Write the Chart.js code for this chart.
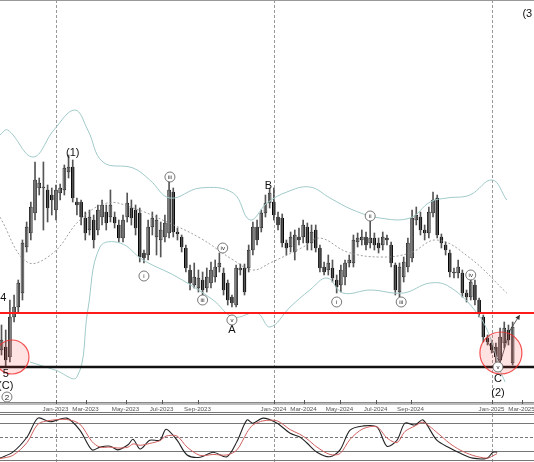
<!DOCTYPE html>
<html><head><meta charset="utf-8">
<script src="https://cdn.jsdelivr.net/npm/chart.js@4.4.1/dist/chart.umd.min.js"></script>
<style>
html,body{margin:0;padding:0;background:#fff;overflow:hidden}
#w1{position:absolute;left:0;top:0;width:534px;height:414px}
#w2{position:absolute;left:0;top:414px;width:534px;height:48px}
</style></head><body>
<div id="w1"><canvas id="c1"></canvas></div>
<div id="w2"><canvas id="c2"></canvas></div>
<script>
// weekly candles (index 0 = mid-Sep 2022)
const opens =[50,53,43,83,93,107,153,167,187,212,212,210,205,190,207,210,228,233,198,198,182,170,180,170,183,188,183,183,175,162,183,192,190,187,147,145,173,163,160,163,167,208,168,163,152,130,115,112,120,112,117,123,133,127,117,103,95,130,132,132,150,173,172,187,197,198,183,182,157,153,148,163,163,173,157,170,152,133,130,132,120,115,123,137,137,158,160,163,157,162,157,155,162,155,135,108,123,133,142,180,183,170,167,187,202,163,155,147,128,127,127,107,103,115,100,83,62,57,53,40,57,70,37];
const highs =[75,70,100,105,120,160,178,198,238,222,238,215,212,215,216,235,245,240,202,200,188,190,185,195,200,195,210,188,180,185,207,200,195,192,150,180,188,185,178,185,220,212,172,165,155,135,137,130,128,132,138,140,147,132,120,105,135,136,136,155,178,180,190,205,212,212,188,186,160,168,170,172,180,177,175,175,155,138,145,140,125,135,140,145,165,167,170,168,182,167,162,168,165,158,137,137,143,162,190,193,188,175,193,208,205,166,158,150,132,140,130,110,127,120,102,85,65,60,57,72,78,75,78];
const lows  =[45,33,38,78,88,100,148,160,180,205,170,178,185,180,200,205,222,198,185,175,160,165,152,165,175,170,178,172,158,158,178,175,165,138,137,140,165,145,143,158,162,163,160,148,128,110,112,108,105,108,112,118,128,105,95,93,93,125,105,128,145,155,168,183,192,180,170,153,145,148,140,155,157,150,150,148,128,125,125,118,107,108,115,133,133,153,155,150,152,150,147,150,155,133,105,103,118,128,138,175,165,160,162,183,162,152,145,123,122,122,103,98,100,95,83,58,55,47,38,37,52,55,35];
const closes=[60,40,83,93,117,157,173,193,220,217,213,192,200,210,212,232,233,202,195,183,167,183,160,190,195,177,195,177,162,180,197,182,172,143,142,173,182,180,170,177,210,168,166,153,132,117,123,122,110,123,130,133,137,110,100,97,132,132,108,150,173,160,187,197,207,185,175,157,152,163,165,160,175,157,168,152,132,128,137,122,113,130,137,140,160,162,163,155,162,155,152,163,160,137,110,133,138,157,182,185,170,167,188,200,165,157,150,128,127,133,107,103,118,100,87,63,58,50,43,63,72,60,73];
// Bollinger bands [week index, price]
const bbUpper=[[-0.4,265],[1.5,270],[7.5,243],[12.5,270],[17.5,290],[20.6,270],[24.2,238],[31.4,232],[35.4,220],[40.2,202],[47.4,212],[55.3,207],[59.3,180],[63.4,197],[68.1,208],[73.6,213],[78.4,202],[83.9,190],[90.3,182],[97.5,182],[102.3,198],[106.3,202],[111.8,205],[117.1,220],[120.6,200]];
const bbMid=[[-0.4,183],[6.1,138],[12.3,147],[18.7,180],[25.2,197],[31.4,192],[39.5,178],[47.4,162],[55.3,140],[60,130],[64.1,137],[72,153],[76,162],[82.5,148],[90.3,143],[97.5,147],[103.9,160],[111.8,142],[120.6,107]];
const bbLower=[[6.8,38],[12.8,30],[18,23],[20.6,90],[23.5,153],[28.3,157],[33.8,140],[41.9,123],[50.5,100],[55.3,83],[61,87],[64.1,73],[68.9,93],[73.6,110],[77.7,122],[81.5,107],[88,110],[95.9,107],[102.3,117],[107,113],[113.5,87],[116.6,63],[119,30],[120.2,18]];
const waveLine=[[115.8,60],[119,37],[121.4,70],[123.7,85]];
const redLevel=87, blackLevel=33;
const janWeeks=[13,65,117];
const tickWeeks=[13,20.2,29.7,38.3,46.9,65,72.2,80.8,89.4,97.7,117,124.2];
const tickLabels=['Jan-2023','Mar-2023','May-2023','Jul-2023','Sep-2023','Jan-2024','Mar-2024','May-2024','Jul-2024','Sep-2024','Jan-2025','Mar-2025'];
const waveLabels=[['(1)',17,247],['B',63.7,214],['A',55,70],['4',0.4,102],['5',1,26],['(C)',1,14],['C',118.5,21],['(2)',118.5,7],['(3',125.5,386]];
const circLabels=[['i',34,124],['iii',40.2,223],['iii',48,100],['iv',52.8,152],['v',55,80],['i',80,98],['ii',88,184],['iii',95.4,98],['iv',112,125],['2',1.3,3],['v',118.5,33]];
// stochastic
const stochK=[[-0.4,4],[2.7,17],[6.1,50],[8.7,91],[11.6,83],[15.6,91],[18.7,65],[21.6,22],[23.5,28],[25.9,30],[27.8,22],[30.2,33],[31.4,45],[33.1,24],[35.4,43],[37.8,43],[39.3,67],[41.9,43],[44.3,11],[47.4,6],[50.5,17],[53.8,7],[56.2,40],[58.6,87],[60,80],[62.4,91],[65.8,80],[68.9,58],[71.2,50],[72.9,37],[75.3,17],[78.4,7],[80.8,22],[83.2,65],[86.3,74],[89.6,72],[92,30],[94.4,43],[96.3,80],[98.7,76],[100.6,87],[103.9,43],[107,26],[109.4,15],[112.5,4],[115.9,4],[117.3,17],[118.3,17]];
const stochD=[[-0.4,3],[2.7,10],[6.1,38],[8.7,78],[11.6,86],[15.6,88],[18.7,78],[21.6,40],[23.5,28],[25.9,28],[27.8,26],[30.2,28],[31.4,35],[33.1,32],[35.4,36],[37.8,42],[39.3,52],[41.9,52],[44.3,28],[47.4,10],[50.5,12],[53.8,11],[56.2,22],[58.6,60],[60,76],[62.4,85],[65.8,85],[68.9,66],[71.2,56],[72.9,46],[75.3,28],[78.4,12],[80.8,14],[83.2,45],[86.3,68],[89.6,72],[92,48],[94.4,38],[96.3,62],[98.7,74],[100.6,82],[103.9,60],[107,36],[109.4,22],[112.5,10],[115.9,4],[117.3,9],[118.3,14]];

const FONT='"Liberation Sans", Arial, sans-serif';
const XMIN=-0.36, XMAX=127.1;
const idx=opens.map((_,i)=>i);
const up=i=>closes[i]>=opens[i];
const pts=a=>a.map(p=>({x:p[0],y:p[1]}));

const overlay={id:'overlay',
 beforeDatasetsDraw(ch){const {ctx,chartArea:a,scales:{x,y}}=ch;ctx.save();
  ctx.strokeStyle='#999';ctx.setLineDash([3,2]);ctx.lineWidth=1;
  janWeeks.forEach(w=>{const px=Math.round(x.getPixelForValue(w))+0.5;ctx.beginPath();ctx.moveTo(px,0);ctx.lineTo(px,ch.height);ctx.stroke();});
  ctx.restore();},
 afterDatasetsDraw(ch){const {ctx,chartArea:a,scales:{x,y}}=ch;ctx.save();
  ctx.lineWidth=2.2;ctx.strokeStyle='#ff1a1a';let py=y.getPixelForValue(redLevel);ctx.beginPath();ctx.moveTo(0,py);ctx.lineTo(ch.width,py);ctx.stroke();
  ctx.lineWidth=2.6;ctx.strokeStyle='#111';py=y.getPixelForValue(blackLevel);ctx.beginPath();ctx.moveTo(0,py);ctx.lineTo(ch.width,py);ctx.stroke();
  [[2.5,43,17],[119.2,47,21]].forEach(c=>{ctx.beginPath();ctx.arc(x.getPixelForValue(c[0]),y.getPixelForValue(c[1]),c[2],0,Math.PI*2);ctx.fillStyle='rgba(255,60,60,0.15)';ctx.fill();ctx.strokeStyle='rgba(240,40,40,0.8)';ctx.lineWidth=1.2;ctx.stroke();});
  const a1=waveLine[2],a2=waveLine[3];const x1=x.getPixelForValue(a1[0]),y1=y.getPixelForValue(a1[1]),x2=x.getPixelForValue(a2[0]),y2=y.getPixelForValue(a2[1]);
  const ang=Math.atan2(y2-y1,x2-x1);ctx.fillStyle='#333';ctx.beginPath();ctx.moveTo(x2,y2);ctx.lineTo(x2-5*Math.cos(ang-0.5),y2-5*Math.sin(ang-0.5));ctx.lineTo(x2-5*Math.cos(ang+0.5),y2-5*Math.sin(ang+0.5));ctx.fill();
  ctx.fillStyle='#111';ctx.textAlign='center';ctx.textBaseline='middle';ctx.font='11px '+FONT;
  waveLabels.forEach(l=>ctx.fillText(l[0],x.getPixelForValue(l[1]),y.getPixelForValue(l[2])));
  circLabels.forEach(l=>{const cx=x.getPixelForValue(l[1]),cy=y.getPixelForValue(l[2]);ctx.beginPath();ctx.arc(cx,cy,5,0,Math.PI*2);ctx.fillStyle='#fff';ctx.fill();ctx.strokeStyle='#555';ctx.lineWidth=0.8;ctx.stroke();ctx.fillStyle='#222';ctx.font=(l[0]==='2'?'8px ':'6px ')+FONT;ctx.fillText(l[0],cx,cy+0.5);});
  const by=a.bottom;ctx.fillStyle='#fff';ctx.fillRect(0,by,ch.width,ch.height-by);
  ctx.strokeStyle='#888';ctx.lineWidth=1;ctx.beginPath();ctx.moveTo(0,by+0.5);ctx.lineTo(ch.width,by+0.5);ctx.stroke();
  ctx.strokeStyle='#bbb';ctx.lineWidth=2;ctx.beginPath();ctx.moveTo(0,by+2);ctx.lineTo(ch.width,by+2);ctx.stroke();
  ctx.strokeStyle='#777';ctx.lineWidth=1;ctx.beginPath();ctx.moveTo(0,ch.height-1.5);ctx.lineTo(ch.width,ch.height-1.5);ctx.stroke();
  ctx.strokeStyle='#999';ctx.beginPath();ctx.moveTo(0,0.5);ctx.lineTo(ch.width,0.5);ctx.stroke();
  ctx.fillStyle='#555';ctx.font='6.2px '+FONT;
  tickWeeks.forEach((w,i)=>{const px=Math.round(x.getPixelForValue(w))+0.5;ctx.strokeStyle='#555';ctx.beginPath();ctx.moveTo(px,by-2);ctx.lineTo(px,by+2);ctx.stroke();ctx.fillText(tickLabels[i],px-1,by+7.5);});
  ctx.strokeStyle='#999';ctx.setLineDash([3,2]);
  janWeeks.forEach(w=>{const px=Math.round(x.getPixelForValue(w))+0.5;ctx.beginPath();ctx.moveTo(px,by+10);ctx.lineTo(px,ch.height);ctx.stroke();});
  ctx.restore();}};

new Chart(document.getElementById('c1'),{
 data:{datasets:[
  {type:'line',data:pts(bbUpper),borderColor:'#9fcac8',borderWidth:1,pointRadius:0,tension:0.4},
  {type:'line',data:pts(bbMid),borderColor:'#888',borderWidth:0.8,borderDash:[2,2],pointRadius:0,tension:0.4},
  {type:'line',data:pts(bbLower),borderColor:'#9fcac8',borderWidth:1,pointRadius:0,tension:0.4},
  {type:'bar',data:idx.map(i=>({x:i,y:[lows[i],highs[i]]})),backgroundColor:'#555',barThickness:1,grouped:false},
  {type:'bar',data:idx.map(i=>({x:i,y:[opens[i],closes[i]]})),backgroundColor:idx.map(i=>up(i)?'#fff':'#000'),borderColor:'#000',borderWidth:0.8,borderSkipped:false,barThickness:3,grouped:false,minBarLength:1},
  {type:'line',data:pts(waveLine),borderColor:'#333',borderWidth:0.8,pointRadius:0,tension:0}
 ]},
 options:{responsive:true,maintainAspectRatio:false,animation:false,layout:{padding:{bottom:12}},
  plugins:{legend:{display:false},tooltip:{enabled:false}},
  scales:{x:{type:'linear',min:XMIN,max:XMAX,offset:false,display:false},y:{min:-2,max:400,display:false}}},
 plugins:[overlay]});

const osc={id:'osc',
 beforeDatasetsDraw(ch){const {ctx,scales:{x,y}}=ch;ctx.save();
  ctx.strokeStyle='#999';ctx.setLineDash([3,2]);ctx.lineWidth=1;
  janWeeks.forEach(w=>{const px=Math.round(x.getPixelForValue(w))+0.5;ctx.beginPath();ctx.moveTo(px,0);ctx.lineTo(px,ch.height);ctx.stroke();});
  ctx.setLineDash([]);ctx.strokeStyle='#777';
  [100,80,20,0].forEach(v=>{const py=Math.round(y.getPixelForValue(v))+0.5;ctx.beginPath();ctx.moveTo(0,py);ctx.lineTo(ch.width,py);ctx.stroke();});
  ctx.setLineDash([3,2]);const py=Math.round(y.getPixelForValue(50))+0.5;ctx.beginPath();ctx.moveTo(0,py);ctx.lineTo(ch.width,py);ctx.stroke();
  ctx.restore();}};
new Chart(document.getElementById('c2'),{
 type:'line',
 data:{datasets:[
  {data:pts(stochD),borderColor:'#d06060',borderWidth:1,pointRadius:0,tension:0.3},
  {data:pts(stochK),borderColor:'#222',borderWidth:1.1,pointRadius:0,tension:0.3}
 ]},
 options:{responsive:true,maintainAspectRatio:false,animation:false,layout:{padding:{top:0,bottom:2}},
  plugins:{legend:{display:false},tooltip:{enabled:false}},
  scales:{x:{type:'linear',min:XMIN,max:XMAX,offset:false,display:false},y:{min:0,max:100,display:false}}},
 plugins:[osc]});
</script></body></html>
